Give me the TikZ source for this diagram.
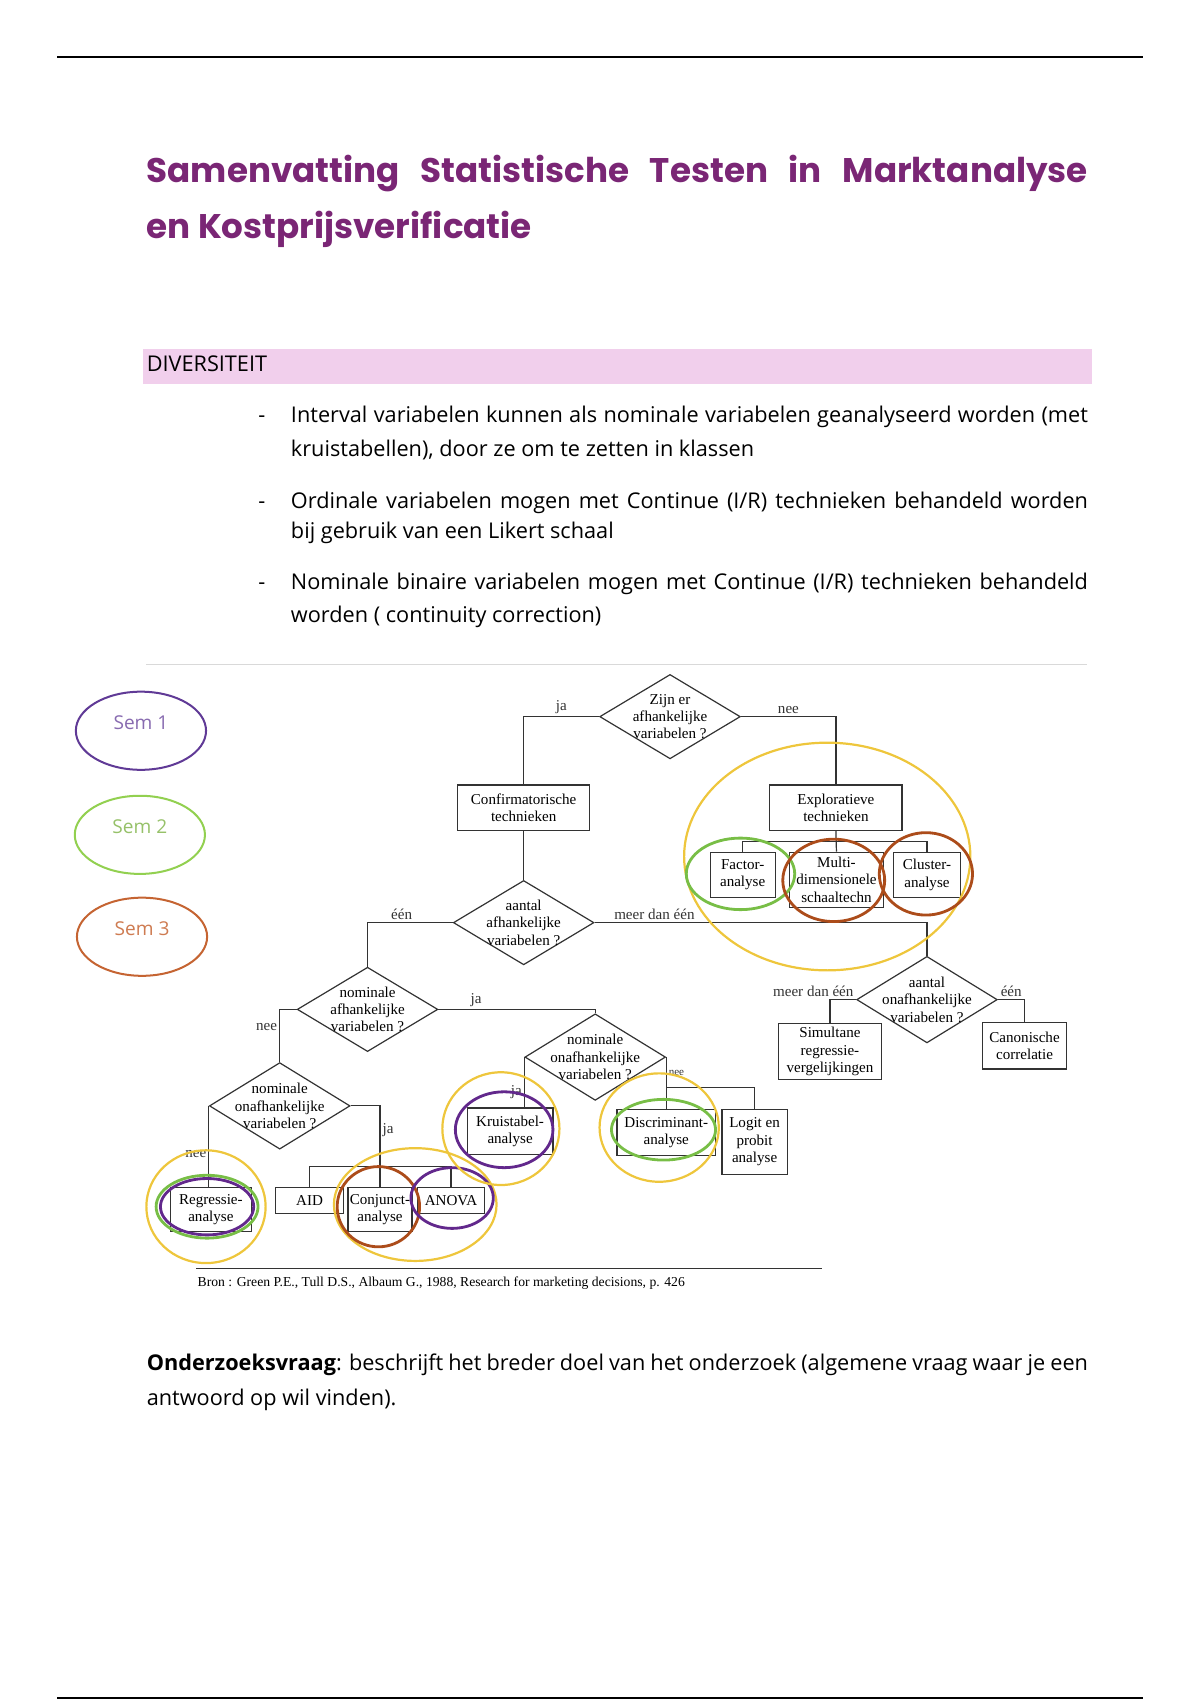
\documentclass[tikz,border=0pt]{standalone}
\usepackage{fontspec}
\setmainfont{Open Sans}
\newfontfamily\titlefont{Poppins}
\newfontfamily\diagfont{Liberation Serif}
\usetikzlibrary{shapes.geometric}
\definecolor{titlepurple}{RGB}{122,38,117}
\definecolor{barpink}{RGB}{241,207,236}
\definecolor{sempurple}{RGB}{96,58,150}
\definecolor{semgreen}{RGB}{146,208,80}
\definecolor{sembrown}{RGB}{197,100,50}
\definecolor{hlyellow}{RGB}{238,198,60}
\definecolor{hlgreen}{RGB}{120,190,70}
\definecolor{hlbrown}{RGB}{172,76,26}
\definecolor{hlpurple}{RGB}{98,40,140}
\newcommand{\jline}[2]{\makebox[#1][s]{#2}}

\begin{document}
\begin{tikzpicture}[x=0.01897cm, y=-0.01897cm,
    box/.style={draw=black!80, line width=0.6pt, inner sep=0pt, align=center, font=\diagfont\fontsize{7.5}{8.6}\selectfont},
    choice/.style={diamond, draw=black!80, line width=0.6pt, inner sep=-6pt, minimum width=70pt, minimum height=42pt, align=center, font=\diagfont\fontsize{7.5}{8.6}\selectfont},
    lbl/.style={font=\diagfont\fontsize{7.5}{8.6}\selectfont, inner sep=1pt},
    wire/.style={black!80, line width=0.6pt},
    sem/.style={ellipse, line width=1pt, minimum width=64.8pt, minimum height=38.9pt},
    semtxt/.style={font=\fontsize{9.5}{12}\selectfont, yshift=4pt},
    ring/.style={line width=1.4pt},
    body/.style={anchor=base west, inner sep=0pt, font=\fontsize{10.8}{13}\selectfont}]
    \useasboundingbox (0,0) rectangle (1107,1568);
    % Page rules
    \draw[line width=1pt] (53,53) -- (1054,53);
    \draw[line width=1pt] (53,1566) -- (1054,1566);
    % Title
    \node[anchor=base west, inner sep=0pt, text=titlepurple, font=\titlefont\bfseries\fontsize{17}{20}\selectfont] (title1) at (135,168) {\jline{468.5pt}{Samenvatting Statistische Testen in Marktanalyse}};
    \node[anchor=base west, inner sep=0pt, text=titlepurple, font=\titlefont\bfseries\fontsize{17}{20}\selectfont] (title2) at (135,220) {en Kostprijsverificatie};
    % Section
    \fill[barpink] (132,322) rectangle (1007,354);
    \node[body] (sect) at (135,343) {DIVERSITEIT};
    \foreach \y in {390,469,544} \node[body] (dash\y) at (238,\y) {-};
    \node[body] (b1a) at (268,390) {\jline{396.7pt}{Interval variabelen kunnen als nominale variabelen geanalyseerd worden (met}};
    \node[body] (b1b) at (268,421) {kruistabellen), door ze om te zetten in klassen};
    \node[body] (b2a) at (268,469) {\jline{396.7pt}{Ordinale variabelen mogen met Continue (I/R) technieken behandeld worden}};
    \node[body] (b2b) at (268,497) {bij gebruik van een Likert schaal};
    \node[body] (b3a) at (268,544) {\jline{396.7pt}{Nominale binaire variabelen mogen met Continue (I/R) technieken behandeld}};
    \node[body] (b3b) at (268,574) {worden ( continuity correction)};
    \draw[black!15, line width=0.8pt] (135,613) -- (1003,613);

    % Legend
    \node[sem, draw=sempurple, label={[semtxt, name=sem1txt, text=sempurple!75]center:Sem 1}] (sem1) at (130,674) {};
    \node[sem, draw=semgreen, label={[semtxt, name=sem2txt, text=semgreen!85!black!80]center:Sem 2}] (sem2) at (129,770) {};
    \node[sem, draw=sembrown, label={[semtxt, name=sem3txt, text=sembrown!85]center:Sem 3}] (sem3) at (131,864) {};

    % Nodes
    \node[choice] (q1) at (618,661) {Zijn er\\afhankelijke\\variabelen ?};
    \node[box, minimum width=65.8pt, minimum height=22.7pt] (conf) at (483,745) {Confirmatorische\\technieken};
    \node[box, minimum width=65.8pt, minimum height=22.7pt] (expl) at (771,745) {Exploratieve\\technieken};
    \node[box, minimum width=32.4pt, minimum height=22.7pt] (fac) at (685,807) {Factor-\\analyse};
    \node[box, minimum width=47pt, minimum height=27.5pt] (mds) at (771.5,811.5) {Multi-\\dimensionele\\schaaltechn};
    \node[box, minimum width=33.5pt, minimum height=22.7pt] (clu) at (855,807) {Cluster-\\analyse};
    \node[choice] (q2) at (483,851) {aantal\\afhankelijke\\variabelen ?};
    \node[choice] (q3) at (339,931) {nominale\\afhankelijke\\variabelen ?};
    \node[choice] (q4) at (258,1020) {nominale\\onafhankelijke\\variabelen ?};
    \node[choice] (q5) at (549,975) {nominale\\onafhankelijke\\variabelen ?};
    \node[choice] (q6) at (855,922) {aantal\\onafhankelijke\\variabelen ?};
    \node[box, minimum width=40.5pt, minimum height=22.1pt] (reg) at (194.5,1115.5) {Regressie-\\analyse};
    \node[box, minimum width=34pt, minimum height=13pt] (aid) at (285.5,1107) {AID};
    \node[box, minimum width=31.8pt, minimum height=22.1pt] (conj) at (350.5,1115.5) {Conjunct-\\analyse};
    \node[box, minimum width=33.5pt, minimum height=13pt] (anova) at (416,1107) {ANOVA};
    \node[box, minimum width=42.6pt, minimum height=23.2pt] (kruis) at (470.5,1043.5) {Kruistabel-\\analyse};
    \node[box, minimum width=49pt, minimum height=23.2pt] (disc) at (614.5,1044.5) {Discriminant-\\analyse};
    \node[box, minimum width=32.4pt, minimum height=32.4pt] (logit) at (696,1053) {Logit en\\probit\\analyse};
    \node[box, minimum width=51.3pt, minimum height=28pt] (sim) at (765.5,970) {Simultane\\regressie-\\vergelijkingen};
    \node[box, minimum width=42pt, minimum height=23.2pt] (can) at (945,964.5) {Canonische\\correlatie};

    % Connectors with labels
    \coordinate (xbar) at (771,776);
    \coordinate (abar) at (351,1076);
    \coordinate (dbar) at (615,1003);
    \draw[wire] (q1.west) -| (conf.north) node[lbl, pos=0.25, above] {ja};
    \draw[wire] (q1.east) -| (expl.north) node[lbl, pos=0.25, above] {nee};
    \draw[wire] (expl.south) -- (mds.north);
    \draw[wire] (fac.north) |- (xbar) -| (clu.north);
    \draw[wire] (conf.south) -- (q2.north);
    \draw[wire] (q2.west) -| (q3.north) node[lbl, pos=0.3, above] {één};
    \draw[wire] (q2.east) -| (q6.north) node[lbl, pos=0.09, above] {meer dan één};
    \draw[wire] (q3.west) -| (q4.north) node[lbl, pos=0.67, left] {nee};
    \draw[wire] (q3.east) -| (q5.north) node[lbl, pos=0.12, above] {ja};
    \draw[wire] (q4.west) -- (q4.west |- reg.north) node[lbl, pos=0.6, left] {nee};
    \draw[wire] (q4.east) -| (conj.north) node[lbl, pos=0.65, right] {ja};
    \draw[wire] (aid.north) |- (abar) -| (anova.north);
    \draw[wire] (q5.west) -- (q5.west |- kruis.north) node[lbl, pos=0.7, left] {ja};
    \draw[wire] (q5.east) -- (q5.east |- disc.north) node[lbl, pos=0.3, right, font=\diagfont\fontsize{5.5}{6}\selectfont] {nee};
    \draw[wire] (dbar) -| (logit.north);
    \draw[wire] (q6.west) -| (sim.north) node[lbl, pos=0, anchor=south east] {meer dan één};
    \draw[wire] (q6.east) -| (can.north) node[lbl, pos=0.25, above] {één};

    % Source
    \draw[wire] (181,1170) -- (758,1170);
    \node[anchor=base west, inner sep=0pt, font=\diagfont\fontsize{6.8}{8}\selectfont] (src) at (182,1187) {Bron : Green P.E., Tull D.S., Albaum G., 1988, Research for marketing decisions, p. 426};

    % Highlight rings
    \draw[ring, hlyellow, line width=1.1pt] (763,790) ellipse (132 and 105);
    \draw[ring, hlgreen] (683,806) ellipse (50 and 33);
    \draw[ring, hlbrown] (769,812) ellipse (47 and 38);
    \draw[ring, hlbrown] (854,806) ellipse (43 and 38);
    \draw[ring, hlyellow, line width=1.1pt] (190,1113) ellipse (55 and 52);
    \draw[ring, hlgreen] (191,1113) ellipse (47 and 29);
    \draw[ring, hlpurple] (191,1113) ellipse (43 and 26);
    \draw[ring, hlyellow, line width=1.1pt] (383,1111) ellipse (75 and 52);
    \draw[ring, hlbrown] (349,1113) ellipse (38 and 37);
    \draw[ring, hlpurple] (417,1105) ellipse (38 and 28);
    \draw[ring, hlyellow, line width=1.1pt] (462,1041) ellipse (54 and 52);
    \draw[ring, hlpurple] (465,1042) ellipse (45 and 35);
    \draw[ring, hlyellow, line width=1.1pt] (608,1040) ellipse (55 and 50);
    \draw[ring, hlgreen] (612,1042) ellipse (48 and 28);

    % Question
    \node[body] (rq1) at (135,1264) {\jline{468.5pt}{\textbf{Onderzoeksvraag}: beschrijft het breder doel van het onderzoek (algemene vraag waar je een}};
    \node[body] (rq2) at (135,1296) {antwoord op wil vinden).};
\end{tikzpicture}
\end{document}
